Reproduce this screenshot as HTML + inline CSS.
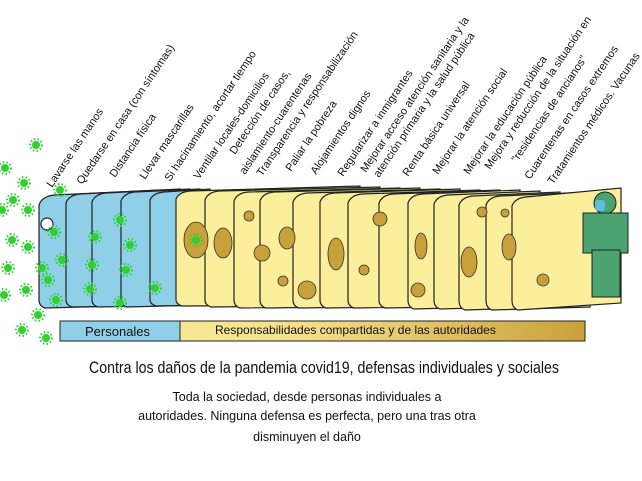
<!DOCTYPE html>
<html><head><meta charset="utf-8"><style>
html,body{margin:0;padding:0;background:#fff}
svg{display:block}
text{font-family:"Liberation Sans",sans-serif;fill:#111}
</style></head><body>
<svg width="642" height="481" viewBox="0 0 642 481" xmlns="http://www.w3.org/2000/svg">
<defs>
<linearGradient id="bar" x1="0" x2="1" y1="0" y2="0">
<stop offset="0" stop-color="#fbef9c"/><stop offset="0.45" stop-color="#f5e08a"/><stop offset="1" stop-color="#c9a13a"/>
</linearGradient>
<g id="vir"><circle r="4" fill="#2fd12f"/><circle r="6" fill="none" stroke="#2fd12f" stroke-width="2" stroke-dasharray="1.5 2.2"/></g>
</defs>

<!-- slices -->
<g stroke="#222" stroke-width="1.2">
<path d="M39,205 Q42,196 55,195 L160,190 L160,305 L45,308 Q39,306 39,300 Z" fill="#8fd0e8"/>
<circle cx="47" cy="224" r="6" fill="#fff"/>
<path d="M66,203 Q69,195 80,194 L180,189 L180,305 L72,307 Q66,305 66,300 Z" fill="#8fd0e8"/>
<path d="M92,202 Q95,194 106,193 L190,189 L190,305 L98,307 Q92,305 92,300 Z" fill="#8fd0e8"/>
<path d="M121,201 Q124,193 135,192 L200,189 L200,305 L127,307 Q121,305 121,300 Z" fill="#8fd0e8"/>
<path d="M150,200 Q153,193 164,192 L210,189 L210,305 L156,306 Q150,304 150,300 Z" fill="#8fd0e8"/>
</g>
<g stroke="#222" stroke-width="1.2" fill="#fbef9c">
<path d="M176,199 Q179,192 190,191 L360,186 L360,305 L182,306 Q176,304 176,300 Z"/>
<path d="M205,200 Q208,192 219,191 L380,187 L380,305 L211,307 Q205,305 205,300 Z"/>
<path d="M234,201 Q237,193 248,192 L400,188 L400,306 L240,308 Q234,306 234,300 Z"/>
<path d="M260,201 Q263,193 274,192 L420,188 L420,306 L266,308 Q260,306 260,300 Z"/>
<path d="M293,202 Q296,194 307,193 L440,189 L440,306 L299,308 Q293,306 293,300 Z"/>
<path d="M320,202 Q323,194 334,193 L460,189 L460,306 L326,308 Q320,306 320,300 Z"/>
<path d="M348,203 Q351,195 362,194 L480,190 L480,306 L354,308 Q348,306 348,300 Z"/>
<path d="M379,203 Q382,195 393,194 L500,190 L500,306 L385,308 Q379,306 379,300 Z"/>
<path d="M408,203 Q411,195 422,194 L520,190 L520,306 L414,309 Q408,307 408,300 Z"/>
<path d="M434,204 Q437,196 448,195 L540,191 L540,306 L440,309 Q434,307 434,300 Z"/>
<path d="M459,205 Q462,197 473,196 L560,192 L560,307 L465,310 Q459,308 459,300 Z"/>
<path d="M486,205 Q489,197 500,196 L590,192 L590,307 L492,310 Q486,308 486,300 Z"/>
<path d="M512,206 Q515,198 526,197 L621,188 L621,303 L518,310 Q512,308 512,300 Z"/>
</g>
<!-- holes -->
<g fill="#c9a13a" stroke="#333" stroke-width="0.8">
<ellipse cx="196" cy="240" rx="12" ry="18"/>
<ellipse cx="223" cy="243" rx="9" ry="15"/>
<circle cx="249" cy="216" r="5"/><circle cx="262" cy="253" r="8"/>
<ellipse cx="287" cy="238" rx="8" ry="11"/><circle cx="283" cy="281" r="5"/>
<circle cx="307" cy="290" r="9"/><ellipse cx="336" cy="254" rx="8" ry="16"/>
<circle cx="380" cy="219" r="7"/><circle cx="364" cy="270" r="5"/>
<ellipse cx="421" cy="246" rx="6" ry="13"/><circle cx="418" cy="290" r="7"/>
<ellipse cx="469" cy="262" rx="8" ry="15"/><circle cx="482" cy="212" r="5"/>
<ellipse cx="509" cy="247" rx="7" ry="13"/><circle cx="505" cy="213" r="4"/>
<circle cx="543" cy="280" r="6"/>
</g>
<!-- person -->
<g fill="#4aa371" stroke="#222" stroke-width="1">
<circle cx="605" cy="203" r="11"/>
<rect x="583" y="213" width="45" height="40"/>
<rect x="592" y="250" width="28" height="47"/>
</g>
<rect x="595" y="200" width="10" height="11" rx="3" fill="#5bbde0"/>
<!-- viruses -->
<g>
<use href="#vir" x="36" y="145"/><use href="#vir" x="5" y="168"/><use href="#vir" x="24" y="183"/>
<use href="#vir" x="13" y="200"/><use href="#vir" x="2" y="210"/><use href="#vir" x="28" y="210"/>
<use href="#vir" x="12" y="240"/><use href="#vir" x="28" y="247"/><use href="#vir" x="8" y="268"/>
<use href="#vir" x="26" y="290"/><use href="#vir" x="42" y="268"/><use href="#vir" x="4" y="295"/>
<use href="#vir" x="38" y="315"/><use href="#vir" x="22" y="330"/><use href="#vir" x="46" y="338"/>
<use href="#vir" x="54" y="232"/><use href="#vir" x="62" y="260"/><use href="#vir" x="48" y="280"/>
<use href="#vir" x="95" y="237"/><use href="#vir" x="92" y="265"/><use href="#vir" x="90" y="289"/>
<use href="#vir" x="120" y="220"/><use href="#vir" x="130" y="245"/><use href="#vir" x="126" y="270"/>
<use href="#vir" x="120" y="303"/><use href="#vir" x="155" y="288"/><use href="#vir" x="196" y="240"/>
<use href="#vir" x="60" y="190"/><use href="#vir" x="56" y="300"/>
</g>
<!-- bar -->
<rect x="60" y="321" width="525" height="20" fill="url(#bar)" stroke="#222"/>
<rect x="60" y="321" width="120" height="20" fill="#8fd0e8" stroke="#222"/>
<text x="85" y="336" font-size="13">Personales</text>
<text x="215" y="334" font-size="12">Responsabilidades compartidas y de las autoridades</text>

<!-- labels -->
<g font-size="11">
<text transform="translate(52,188) rotate(-56)">Lavarse las manos</text>
<text transform="translate(82,185) rotate(-56)">Quedarse en casa (con síntomas)</text>
<text transform="translate(115,178) rotate(-56)">Distancia física</text>
<text transform="translate(145,180) rotate(-56)">Llevar mascarillas</text>
<text transform="translate(170,182) rotate(-56)">Si hacinamiento, acortar tiempo</text>
<text transform="translate(199,180) rotate(-56)">Ventilar locales-domicilios</text>
<text transform="translate(235,155) rotate(-56)">Detección de casos,</text>
<text transform="translate(245,175) rotate(-56)">aislamiento-cuarentenas</text>
<text transform="translate(262,177) rotate(-56)">Transparencia y responsabilización</text>
<text transform="translate(291,172) rotate(-56)">Paliar la pobreza</text>
<text transform="translate(316,175) rotate(-56)">Alojamientos dignos</text>
<text transform="translate(343,177) rotate(-56)">Regularizar a inmigrantes</text>
<text transform="translate(366,173) rotate(-56)">Mejorar acceso atención sanitaria y la</text>
<text transform="translate(379,178) rotate(-56)">atención primaria y la salud pública</text>
<text transform="translate(408,177) rotate(-56)">Renta básica universal</text>
<text transform="translate(438,175) rotate(-56)">Mejorar la atención social</text>
<text transform="translate(469,175) rotate(-56)">Mejorar la educación pública</text>
<text transform="translate(490,170) rotate(-56)">Mejora y reducción de la situación en</text>
<text transform="translate(517,163) rotate(-56)">"residencias de ancianos"</text>
<text transform="translate(530,180) rotate(-56)">Cuarentenas en casos extremos</text>
<text transform="translate(553,185) rotate(-56)">Tratamientos médicos. Vacunas</text>
</g>

<text x="89" y="373" font-size="17" textLength="470" lengthAdjust="spacingAndGlyphs">Contra los daños de la pandemia covid19, defensas individuales y sociales</text>
<g font-size="12.5" text-anchor="middle">
<text x="307" y="401">Toda la sociedad, desde personas individuales a</text>
<text x="307" y="420">autoridades. Ninguna defensa es perfecta, pero una tras otra</text>
<text x="307" y="441">disminuyen el daño</text>
</g>
</svg>
</body></html>
